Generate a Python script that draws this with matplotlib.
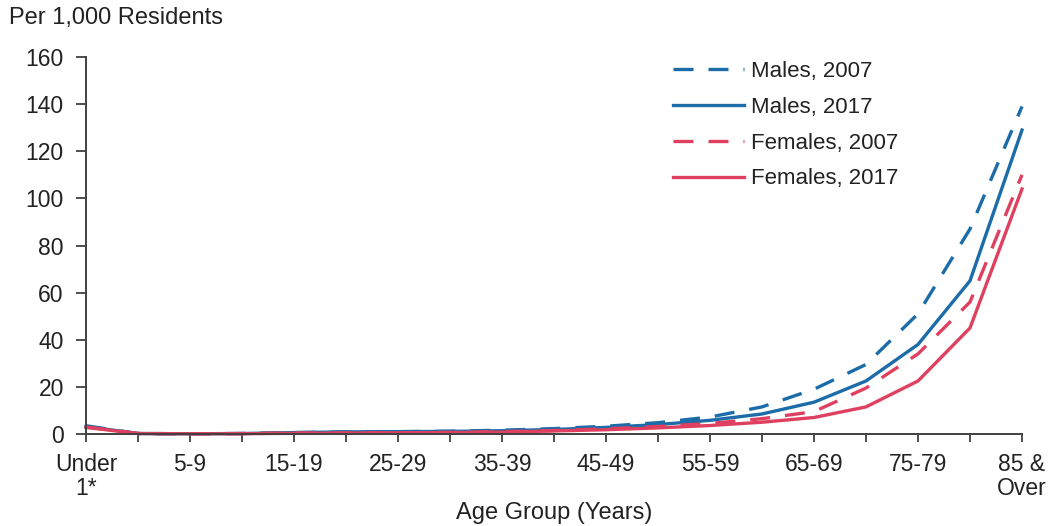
import matplotlib
matplotlib.use("Agg")
import matplotlib.pyplot as plt

age_groups = ["Under\n1*", "1-4", "5-9", "10-14", "15-19", "20-24", "25-29", "30-34",
              "35-39", "40-44", "45-49", "50-54", "55-59", "60-64", "65-69", "70-74",
              "75-79", "80-84", "85 &\nOver"]

males_2007 = [3.5, 0.2, 0.1, 0.2, 0.6, 0.9, 1.0, 1.2, 1.6, 2.3, 3.3, 4.8, 7.2, 11.5, 19.0, 29.5, 51.0, 87.0, 139.0]
males_2017 = [3.2, 0.2, 0.1, 0.2, 0.6, 0.9, 1.0, 1.1, 1.4, 1.9, 2.8, 4.0, 5.8, 8.5, 13.5, 22.5, 38.0, 65.0, 129.0]
females_2007 = [3.0, 0.2, 0.1, 0.2, 0.4, 0.4, 0.5, 0.7, 1.0, 1.5, 2.2, 3.2, 4.5, 6.5, 9.5, 19.5, 34.0, 56.0, 110.0]
females_2017 = [2.8, 0.2, 0.1, 0.1, 0.3, 0.4, 0.5, 0.6, 0.8, 1.3, 1.8, 2.6, 3.6, 5.0, 7.0, 11.5, 22.5, 45.0, 104.0]

series_labels = ["Males, 2007", "Males, 2017", "Females, 2007", "Females, 2017"]

blue = "#1b6ca8"
red = "#e0405f"
text_color = "#222222"

plt.rcParams["font.family"] = ["Liberation Sans", "DejaVu Sans"]
plt.rcParams["font.size"] = 16.5

fig = plt.figure(figsize=(10.55, 5.26), dpi=100)
ax = fig.add_axes([0.0815, 0.1749, 0.8872, 0.7167])

x = list(range(len(age_groups)))
lw = 2.4
ax.plot(x, males_2007, color=blue, lw=lw, dashes=(6, 4.5), label=series_labels[0], clip_on=False)
ax.plot(x, males_2017, color=blue, lw=lw, label=series_labels[1], clip_on=False)
ax.plot(x, females_2007, color=red, lw=lw, dashes=(6, 4.5), label=series_labels[2], clip_on=False)
ax.plot(x, females_2017, color=red, lw=lw, label=series_labels[3], clip_on=False)

ax.set_xlim(0, len(age_groups) - 1)
ax.set_ylim(0, 160)
ax.set_yticks(range(0, 161, 20))
ax.set_xticks(x)
ax.set_xticklabels([lab if i % 2 == 0 else "" for i, lab in enumerate(age_groups)],
                   linespacing=1.05)

for side in ["top", "right"]:
  ax.spines[side].set_visible(False)
for side in ["left", "bottom"]:
  ax.spines[side].set_color("#404040")
  ax.spines[side].set_linewidth(1.4)
ax.tick_params(axis="both", direction="out", width=1.3, color="#404040",
               labelcolor=text_color, labelsize=16.5)
ax.tick_params(axis="x", length=6, pad=8)
ax.tick_params(axis="y", length=7, pad=9)

fig.text(0.009, 0.965, "Per 1,000 Residents", fontsize=17, color=text_color, va="center", ha="left")
ax.set_xlabel("Age Group (Years)", fontsize=17, color=text_color, labelpad=1)

leg = ax.legend(loc="upper left", bbox_to_anchor=(0.627, 0.99), frameon=False,
                handlelength=3.2, handletextpad=0.3, labelspacing=0.67,
                borderaxespad=0, borderpad=0, fontsize=16)
for t in leg.get_texts():
  t.set_color(text_color)

fig.savefig("out.png", dpi=100)
